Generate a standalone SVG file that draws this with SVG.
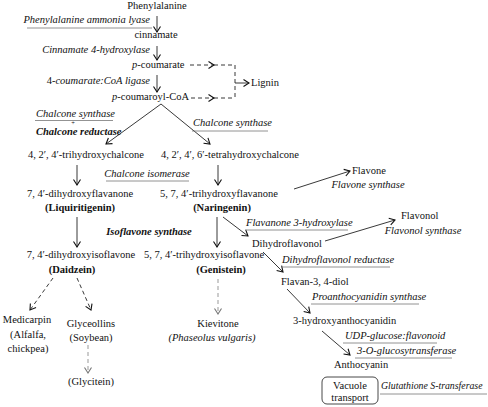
<svg xmlns="http://www.w3.org/2000/svg" width="488" height="407" viewBox="0 0 488 407">
<style>
text{font-family:"Liberation Serif","Times New Roman",serif;font-size:10.5px;fill:#111}
.i{font-style:italic}
.b{font-weight:bold}
.m{text-anchor:middle}
.e{text-anchor:end}
.ul{stroke:#777;stroke-width:0.8}
.c{stroke:#222;stroke-width:0.9;fill:none}
.d{stroke:#222;stroke-width:0.9;fill:none;stroke-dasharray:4 3}
.g{stroke:#999;stroke-width:1;fill:none;stroke-dasharray:4 3}
</style>
<defs>
<marker id="ah" markerUnits="userSpaceOnUse" markerWidth="10" markerHeight="10" refX="7" refY="5" orient="auto"><path d="M1.5,1.5 L7,5 L1.5,8.5" fill="none" stroke="#111" stroke-width="1.1"/></marker>
<marker id="ahg" markerUnits="userSpaceOnUse" markerWidth="10" markerHeight="10" refX="7" refY="5" orient="auto"><path d="M1.5,1.5 L7,5 L1.5,8.5" fill="none" stroke="#777" stroke-width="1.1"/></marker>
</defs>

<g id="connectors">
<line class="c" x1="157" y1="16" x2="157" y2="32" marker-end="url(#ah)"/>
<line class="c" x1="157" y1="46" x2="157" y2="60" marker-end="url(#ah)"/>
<line class="c" x1="157" y1="75" x2="157" y2="92" marker-end="url(#ah)"/>
<line class="d" x1="190" y1="65" x2="214" y2="65" marker-end="url(#ah)"/>
<line class="d" x1="214" y1="65" x2="235" y2="65"/>
<line class="d" x1="191" y1="98" x2="214" y2="98" marker-end="url(#ah)"/>
<line class="d" x1="214" y1="98" x2="235" y2="98"/>
<line class="d" x1="235" y1="65" x2="235" y2="98"/>
<line class="c" x1="235" y1="83" x2="249" y2="83" marker-end="url(#ah)"/>
<line class="c" x1="161" y1="104" x2="106" y2="144" marker-end="url(#ah)"/>
<line class="c" x1="161" y1="104" x2="210" y2="144" marker-end="url(#ah)"/>
<line class="c" x1="77" y1="165" x2="77" y2="185" marker-end="url(#ah)"/>
<line class="c" x1="218" y1="165" x2="218" y2="185" marker-end="url(#ah)"/>
<line class="c" x1="294" y1="189" x2="350" y2="171" marker-end="url(#ah)"/>
<line class="c" x1="77" y1="217" x2="77" y2="247" marker-end="url(#ah)"/>
<line class="c" x1="217" y1="217" x2="217" y2="247" marker-end="url(#ah)"/>
<line class="c" x1="223" y1="217" x2="248" y2="236" marker-end="url(#ah)"/>
<line class="c" x1="325" y1="241" x2="395" y2="220" marker-end="url(#ah)"/>
<line class="c" x1="263" y1="252" x2="283" y2="272" marker-end="url(#ah)"/>
<line class="c" x1="287" y1="289" x2="310" y2="313" marker-end="url(#ah)"/>
<line class="c" x1="322" y1="331" x2="350" y2="355" marker-end="url(#ah)"/>
<line class="d" x1="53" y1="278" x2="30" y2="310" marker-end="url(#ah)"/>
<line class="d" x1="77" y1="278" x2="91" y2="310" marker-end="url(#ah)"/>
<line class="g" x1="218" y1="279" x2="218" y2="314" marker-end="url(#ahg)"/>
<line class="g" x1="88" y1="345" x2="88" y2="373" marker-end="url(#ahg)"/>
</g>

<g id="phenylalanine"><text class="m" x="157" y="9">Phenylalanine</text></g>
<g id="pal"><text class="i e" x="150" y="23">Phenylalanine ammonia lyase</text><line class="ul" x1="27" y1="28" x2="152" y2="28"/></g>
<g id="cinnamate"><text class="m" x="156" y="38">cinnamate</text></g>
<g id="c4h"><text class="i e" x="150" y="53">Cinnamate 4-hydroxylase</text></g>
<g id="p-coumarate"><text x="132" y="68"><tspan class="i">p</tspan>-coumarate</text></g>
<g id="4cl"><text class="e" x="150" y="84">4-<tspan class="i">coumarate:CoA ligase</tspan></text></g>
<g id="p-coumaroyl-coa"><text x="112" y="100"><tspan class="i">p</tspan>-coumaroyl-CoA</text></g>
<g id="lignin"><text x="251" y="86">Lignin</text></g>

<g id="chs-chr"><text class="i" x="36" y="116.5">Chalcone synthase</text><line class="ul" x1="35" y1="120.5" x2="113" y2="120.5"/><text class="m" x="73" y="125" style="font-size:6.5px">+</text><text class="i b" x="36" y="134.5">Chalcone reductase</text></g>
<g id="chs"><text class="i" x="193" y="126">Chalcone synthase</text><line class="ul" x1="192" y1="131" x2="268" y2="131"/></g>

<g id="trihydroxychalcone"><text class="m" x="86" y="158">4, 2′, 4′-trihydroxychalcone</text></g>
<g id="tetrahydroxychalcone"><text class="m" x="230" y="158">4, 2′, 4′, 6′-tetrahydroxychalcone</text></g>
<g id="chi"><text class="i m" x="147" y="177">Chalcone isomerase</text><line class="ul" x1="106" y1="181" x2="189" y2="181"/></g>

<g id="liquiritigenin"><text class="m" x="80" y="197">7, 4′-dihydroxyflavanone</text><text class="b m" x="80" y="211">(Liquiritigenin)</text></g>
<g id="naringenin"><text class="m" x="219" y="197">5, 7, 4′-trihydroxyflavanone</text><text class="b m" x="222" y="211">(Naringenin)</text></g>
<g id="flavone"><text x="352" y="174">Flavone</text><text class="i m" x="368" y="188">Flavone synthase</text></g>

<g id="ifs"><text class="i b m" x="149" y="235">Isoflavone synthase</text></g>
<g id="f3h"><text class="i" x="246" y="226">Flavanone 3-hydroxylase</text><line class="ul" x1="245" y1="230" x2="348" y2="230"/></g>
<g id="dihydroflavonol"><text x="252" y="247">Dihydroflavonol</text></g>
<g id="flavonol"><text x="401" y="219">Flavonol</text><text class="i m" x="423" y="234">Flavonol synthase</text></g>

<g id="daidzein"><text class="m" x="81" y="258">7, 4′-dihydroxyisoflavone</text><text class="b m" x="72" y="273">(Daidzein)</text></g>
<g id="genistein"><text class="m" x="204" y="258">5, 7, 4′-trihydroxyisoflavone</text><text class="b m" x="221" y="273">(Genistein)</text></g>
<g id="dfr"><text class="i" x="282" y="263">Dihydroflavonol reductase</text><line class="ul" x1="281" y1="267" x2="390" y2="267"/></g>
<g id="flavan-diol"><text x="281" y="285">Flavan-3, 4-diol</text></g>
<g id="ans"><text class="i" x="312" y="300">Proanthocyanidin synthase</text><line class="ul" x1="311" y1="304" x2="419" y2="304"/></g>

<g id="medicarpin"><text class="m" x="27" y="323">Medicarpin</text><text class="m" x="28" y="338">(Alfalfa,</text><text class="m" x="28" y="352">chickpea)</text></g>
<g id="glyceollins"><text class="m" x="91" y="327">Glyceollins</text><text class="m" x="91" y="341">(Soybean)</text></g>
<g id="glycitein"><text class="m" x="91" y="385">(Glycitein)</text></g>
<g id="kievitone"><text class="m" x="218" y="327">Kievitone</text><text class="i m" x="212" y="341">(Phaseolus vulgaris)</text></g>

<g id="hydroxyanthocyanidin"><text x="293" y="324">3-hydroxyanthocyanidin</text></g>
<g id="ufgt"><text class="i" x="345" y="339">UDP-glucose:flavonoid</text><line class="ul" x1="343" y1="343" x2="437" y2="343"/><text class="i" x="357" y="354">3-O-glucosytransferase</text><line class="ul" x1="355" y1="358" x2="452" y2="358"/></g>
<g id="anthocyanin"><text x="334" y="368">Anthocyanin</text></g>
<g id="vacuole-transport"><rect x="322" y="377" width="56" height="27" rx="5" fill="none" stroke="#333" stroke-width="0.9"/><text class="m" x="350" y="389">Vacuole</text><text class="m" x="350" y="400.5">transport</text></g>
<g id="gst"><text class="i" x="381" y="389" style="font-size:9.8px">Glutathione S-transferase</text><line class="ul" x1="380" y1="394" x2="487" y2="394"/></g>
</svg>
